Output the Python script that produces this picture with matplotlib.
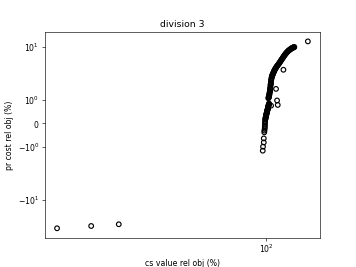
import numpy as np
import matplotlib
matplotlib.use('Agg')
import matplotlib.pyplot as plt

# three far-off points on the left
x_low = [18.8, 24.7, 30.8]
y_low = [-46.0, -40.6, -37.0]

# upper part of the main curve
x_up = [101.9, 102.0, 102.1, 102.2, 102.3, 102.4, 102.5, 102.6, 102.7, 102.8,
        102.9, 103.0, 103.1, 103.2, 103.3, 103.4, 103.5, 103.6, 103.7, 103.8,
        103.9, 104.0, 104.1, 104.3, 104.4, 104.6, 104.7, 104.9, 105.0, 105.2,
        105.3, 105.5, 105.7, 105.9, 106.1, 106.3, 106.5, 106.7, 106.9, 107.2,
        107.5, 107.8, 108.1, 108.4, 108.8, 109.1, 109.5, 110.0, 110.5, 110.8,
        111.2, 111.6, 112.0, 112.4, 112.8, 113.1, 113.5, 113.9, 114.3, 114.6,
        115.0, 115.4, 115.8, 116.2, 116.6, 117.0, 117.4, 117.8, 118.2, 118.6,
        119.0, 119.4, 119.8, 120.2, 120.6, 121.0, 121.4, 121.8, 122.2, 122.6,
        123.0, 123.4, 123.8, 124.2, 124.6, 125.0, 125.4]
y_up = [1.06, 1.08, 1.10, 1.12, 1.14, 1.16, 1.18, 1.20, 1.22, 1.27,
        1.30, 1.33, 1.36, 1.39, 1.45, 1.48, 1.52, 1.60, 1.63, 1.67,
        1.70, 1.74, 1.82, 1.86, 1.90, 1.94, 1.98, 2.01, 2.05, 2.10,
        2.15, 2.21, 2.28, 2.35, 2.42, 2.50, 2.57, 2.65, 2.73, 2.82,
        2.92, 3.02, 3.12, 3.22, 3.33, 3.44, 3.55, 3.70, 3.83, 3.95,
        4.08, 4.22, 4.38, 4.55, 4.71, 4.87, 5.03, 5.20, 5.38, 5.56,
        5.75, 5.96, 6.17, 6.36, 6.55, 6.75, 6.95, 7.13, 7.32, 7.50,
        7.67, 7.84, 8.00, 8.15, 8.30, 8.45, 8.60, 8.75, 8.89, 9.00,
        9.12, 9.24, 9.35, 9.45, 9.55, 9.63, 9.70]

# lower part of the main curve
x_dn = [102.4, 102.3, 102.2, 102.1, 102.0, 101.9, 101.8, 101.7, 101.6, 101.5,
        101.4, 101.3, 101.2, 101.1, 101.0, 100.9, 100.8, 100.7, 100.6, 100.5,
        100.4, 100.3, 100.2, 100.1, 100.0, 99.9, 99.8, 99.7, 99.6, 99.5,
        99.4, 99.3, 99.2, 99.1, 99.1, 99.0, 98.9, 98.7, 98.6, 98.2,
        98.2, 97.6, 97.4]
y_dn = [0.84, 0.82, 0.80, 0.78, 0.75, 0.73, 0.71, 0.69, 0.67, 0.64,
        0.62, 0.60, 0.58, 0.56, 0.54, 0.52, 0.50, 0.48, 0.46, 0.43,
        0.41, 0.39, 0.37, 0.35, 0.33, 0.30, 0.27, 0.24, 0.22, 0.19,
        0.17, 0.11, 0.04, -0.02, -0.10, -0.17, -0.24, -0.31, -0.38, -0.64,
        -0.81, -0.99, -1.16]

# isolated points near the curve
x_out = [139.7, 114.9, 108.3, 109.2, 109.8, 104.1]
y_out = [13.2, 2.83, 1.46, 0.97, 0.78, 0.75]

x = np.array(x_low + x_up + x_dn + x_out)
y = np.array(y_low + y_up + y_dn + y_out)

fig, ax = plt.subplots(figsize=(6.4, 4.8))
ax.scatter(x, y, facecolors='none', edgecolors='k', linewidths=1.5)
ax.set_xscale('symlog')
ax.set_yscale('symlog')
ax.set_title('division 3')
ax.set_xlabel('cs value rel obj (%)')
ax.set_ylabel('pr cost rel obj (%)')

fig.savefig('out.png', dpi=55.625)
